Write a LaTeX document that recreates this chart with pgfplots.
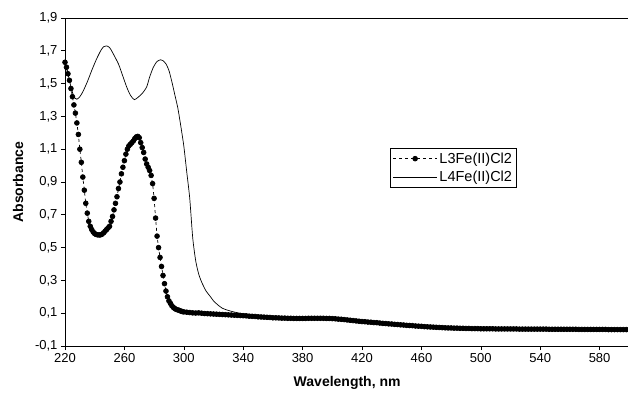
\documentclass[border=0pt]{standalone}
\usepackage{pgfplots}
\pgfplotsset{compat=1.18}
\usepackage{fontspec}
\setmainfont{Liberation Sans}
\newcommand{\tkf}{\fontsize{13}{15}\selectfont\mdseries}
\newcommand{\lgf}{\fontsize{14.5}{16}\selectfont\mdseries}
\begin{document}
\begin{tikzpicture}
\begin{axis}[
  at={(0pt,0pt)}, anchor=south west,
  scale only axis,
  width=564.3pt, height=328pt,
  xmin=220, xmax=600, ymin=-0.1, ymax=1.9,
  xtick={220,260,...,580},
  ytick={-0.1,0.1,0.3,0.5,0.7,0.9,1.1,1.3,1.5,1.7,1.9},
  tick align=outside, xtick pos=bottom, ytick pos=left,
  major tick length=4pt,
  tick style={black, line width=0.6pt},
  axis line style={line width=0.8pt},
  /pgf/number format/assume math mode=true,
  yticklabel={\tkf\pgfmathprintnumber[use comma, fixed, fixed zerofill, precision=1]{\tick}},
  xticklabel={\tkf\pgfmathprintnumber[fixed, precision=0]{\tick}},
  xlabel={Wavelength, nm}, ylabel={Absorbance},
  label style={font=\fontsize{14}{16}\selectfont\bfseries},
  xlabel style={at={(axis description cs:0.5,-0.113)}, anchor=center},
  ylabel style={at={(axis description cs:-0.083,0.5)}, anchor=center, rotate=0},
  legend style={at={(rel axis cs:0.576,0.604)}, anchor=north west, draw=black, line width=0.5pt,
    row sep=2.5pt, inner sep=2.5pt},
  legend cell align=left,
  legend image code/.code={\draw[#1,mark repeat=2,mark phase=2] plot coordinates {(0pt,0pt) (22pt,0pt) (44pt,0pt)};},
]
\addplot[black, dashed, line width=0.7pt, mark=*, mark size=2.4pt, mark options={solid}] coordinates {
(220,1.63)(221,1.60)(222,1.56)(223,1.52)(224,1.47)(225,1.42)(226,1.37)(227,1.32)(228,1.26)(229,1.19)
(230,1.10)(231,1.02)(232,0.93)(233,0.85)(234,0.77)(235,0.71)(236,0.66)(237,0.63)(238,0.61)(239,0.595)
(240,0.585)(241,0.58)(242,0.578)(243,0.577)(244,0.578)(245,0.582)(246,0.59)(247,0.60)(248,0.61)(249,0.62)
(250,0.63)(251,0.66)(252,0.69)(253,0.73)(254,0.77)(255,0.81)(256,0.86)(257,0.90)(258,0.95)(259,0.99)
(260,1.03)(261,1.07)(262,1.10)(263,1.12)(264,1.13)(265,1.14)(266,1.15)(267,1.165)(268,1.175)(269,1.178)
(270,1.17)(271,1.14)(272,1.11)(273,1.08)(274,1.04)(275,1.01)(276,0.99)(277,0.97)(278,0.94)(279,0.89)
(280,0.80)(281,0.68)(282,0.57)(283,0.50)(284,0.44)(285,0.385)(286,0.33)(287,0.28)(288,0.235)(289,0.20)
(290,0.175)(291,0.16)(292,0.145)(293,0.135)(294,0.128)(295,0.123)(296,0.12)(297,0.117)(298,0.113)(299,0.11)
(300,0.108)(302,0.106)(304,0.104)(306,0.102)(308,0.101)(310,0.102)(312,0.100)(314,0.098)(316,0.097)(318,0.096)
(320,0.095)(322,0.094)(324,0.093)(326,0.092)(328,0.091)(330,0.090)(332,0.089)(334,0.088)(336,0.087)(338,0.086)
(340,0.085)(342,0.084)(344,0.082)(346,0.081)(348,0.080)(350,0.078)(352,0.077)(354,0.076)(356,0.075)(358,0.074)
(360,0.072)(362,0.072)(364,0.071)(366,0.070)(368,0.070)(370,0.069)(372,0.069)(374,0.068)(376,0.068)(378,0.068)
(380,0.068)(382,0.068)(384,0.069)(386,0.069)(388,0.069)(390,0.069)(392,0.069)(394,0.069)(396,0.068)(398,0.068)
(400,0.067)(402,0.066)(404,0.064)(406,0.063)(408,0.061)(410,0.059)(412,0.057)(414,0.055)(416,0.053)(418,0.051)
(420,0.049)(422,0.048)(424,0.046)(426,0.045)(428,0.043)(430,0.042)(432,0.040)(434,0.038)(436,0.037)(438,0.035)
(440,0.034)(442,0.032)(444,0.031)(446,0.029)(448,0.028)(450,0.026)(452,0.025)(454,0.024)(456,0.022)(458,0.021)
(460,0.020)(462,0.018)(464,0.017)(466,0.016)(468,0.015)(470,0.014)(472,0.013)(474,0.012)(476,0.011)(478,0.010)
(480,0.010)(482,0.009)(484,0.009)(486,0.008)(488,0.008)(490,0.007)(492,0.007)(494,0.006)(496,0.006)(498,0.006)
(500,0.005)(502,0.005)(504,0.005)(506,0.005)(508,0.005)(510,0.004)(512,0.004)(514,0.004)(516,0.004)(518,0.004)
(520,0.004)(522,0.004)(524,0.004)(526,0.003)(528,0.003)(530,0.003)(532,0.003)(534,0.003)(536,0.003)(538,0.003)
(540,0.003)(542,0.003)(544,0.003)(546,0.002)(548,0.002)(550,0.002)(552,0.002)(554,0.002)(556,0.002)(558,0.002)
(560,0.002)(562,0.002)(564,0.002)(566,0.001)(568,0.001)(570,0.001)(572,0.001)(574,0.001)(576,0.001)(578,0.001)
(580,0.001)(582,0.001)(584,0.001)(586,0.000)(588,0.000)(590,0.000)(592,0.000)(594,0.000)(596,0.000)(598,0.000)
(600,0.000)
};
\addlegendentry{\lgf L3Fe(II)Cl2}
\addplot[black, solid, line width=0.7pt, smooth, tension=0.4] coordinates {
(220,1.63)(222,1.56)(224,1.48)(226,1.42)(228,1.405)(230,1.42)(232,1.45)(235,1.51)(238,1.58)(241,1.645)
(244,1.70)(246,1.725)(248,1.73)(250,1.72)(252,1.69)(256,1.62)(258,1.57)(261.5,1.48)(264,1.43)(266.6,1.402)
(269,1.415)(272,1.44)(275,1.48)(277,1.54)(279.5,1.60)(282,1.635)(284.4,1.645)(286,1.64)(288,1.62)(290,1.58)
(292,1.51)(294,1.43)(296,1.35)(298,1.24)(300,1.12)(302,0.96)(304,0.80)(306,0.56)(308,0.42)(310,0.34)
(312,0.29)(315,0.235)(318,0.20)(320,0.175)(323,0.15)(326,0.13)(330,0.117)(334,0.107)(340,0.096)(350,0.082)
(360,0.075)(380,0.069)(400,0.068)(420,0.049)(440,0.034)(460,0.020)(480,0.010)(500,0.005)(540,0.003)(580,0.001)(600,0.0)
};
\addlegendentry{\lgf L4Fe(II)Cl2}
\end{axis}
\pgfresetboundingbox
\path[use as bounding box] (-65pt,-50pt) rectangle (563pt,346pt);
\end{tikzpicture}
\end{document}
